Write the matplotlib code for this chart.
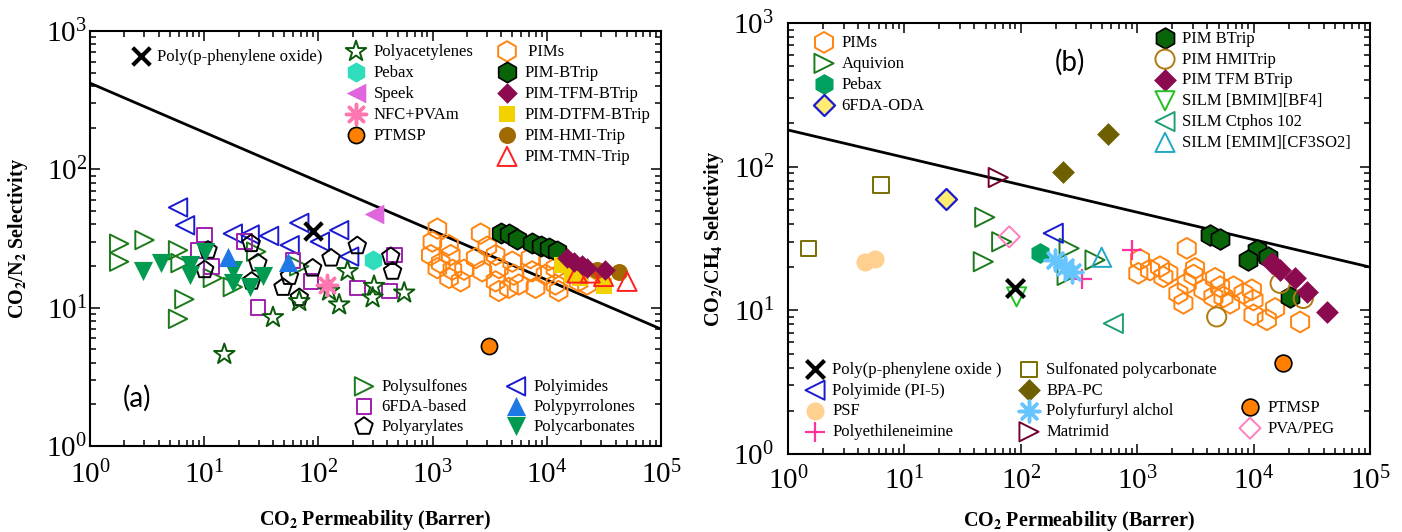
import matplotlib
matplotlib.use("Agg")
import matplotlib.pyplot as plt
from matplotlib.legend import Legend

plt.rcParams['font.family'] = ['Liberation Serif', 'DejaVu Serif']
plt.rcParams['mathtext.fontset'] = 'stix'
plt.rcParams['mathtext.default'] = 'regular'

# ---------------- Panel (a) data: CO2 permeability (Barrer), CO2/N2 selectivity
bound_a_p = [1, 1e5]
bound_a_s = [420, 7.0]

ppo_a_p = [89]
ppo_a_s = [36]
polysulfones_p = [1.8, 1.8, 3.0, 5.9, 6.2, 6.7, 5.9, 11.9, 17.8, 28.5, 68]
polysulfones_s = [29, 21.5, 30.8, 26, 21, 11.5, 8.3, 16.4, 14.1, 25.4, 19.9]
polyimides_p = [5.9, 6.8, 17.8, 25, 37, 56, 68, 103, 152, 186]
polyimides_s = [53, 39.4, 34.3, 33.8, 33, 28.3, 41, 30, 36.3, 23.4]
fda_p = [10.1, 8.8, 11.6, 22.5, 29.5, 60, 86, 220, 417, 462]
fda_s = [33.4, 26, 19.8, 30, 10, 22, 15.5, 13.9, 13.2, 24]
arylates_p = [10.8, 10.1, 25.8, 29.5, 26, 55.8, 49, 68, 89, 129, 219, 430, 446]
arylates_s = [26, 18.8, 29, 21, 15.5, 16.8, 14, 11.8, 19.3, 22.8, 28, 23.4, 18.3]
polycarb_p = [2.9, 4.2, 7.5, 7.5, 10.1, 17.8, 17.8, 25, 32.6]
polycarb_s = [18.3, 21, 20.4, 17.3, 25.4, 18.8, 15.1, 14, 16.8]
pyrrolones_p = [16, 54]
pyrrolones_s = [23.4, 21.5]
acetylenes_p = [15, 40, 68, 124, 152, 180, 298, 307, 564]
acetylenes_s = [4.6, 8.5, 11.1, 13.2, 10.5, 18.3, 11.8, 14.3, 12.8]
pebax_a_p = [298]
pebax_a_s = [22.2]
speek_p = [307]
speek_s = [47.5]
nfc_p = [120]
nfc_s = [14.7]
ptmsp_a_p = [3100]
ptmsp_a_s = [5.3]
pims_a_p = [1101, 996, 1393, 964, 1441, 1178, 1101, 1490, 1884, 1762, 1393, 2636,
            3012, 2383, 2723, 3562, 3809, 3562, 3809, 4979, 5149, 4656, 5693, 7195,
            7443, 7960, 10400, 9731, 11900, 12700, 11900, 19000, 22500]
pims_a_s = [37.3, 30, 28.3, 24, 24, 21, 19.3, 18.8, 18.8, 15.5, 16.4, 34.3,
            27.6, 22.8, 18.3, 24, 19.3, 15.5, 13.2, 21.5, 17.3, 13.9, 14.7, 22.8,
            18.3, 13.9, 22.1, 17.3, 14.7, 13.2, 19.3, 15.5, 14.7]
pim_btrip_a_p = [3940, 4656, 5510, 7443, 8810, 10400, 12300]
pim_btrip_a_s = [34.9, 33.8, 31.6, 29.1, 27.9, 26.8, 25.7]
pim_dtfm_a_p = [13600, 16600, 19700, 31400]
pim_dtfm_a_s = [20.4, 17.3, 16.4, 14.3]
pim_hmi_a_p = [27500, 42500]
pim_hmi_a_s = [18.8, 18.0]
pim_tmn_a_p = [18400, 24000, 31400, 50400]
pim_tmn_a_s = [17.8, 17.8, 16.8, 15.5]
pim_tfm_a_p = [15000, 17200, 20400, 22500, 32500]
pim_tfm_a_s = [22.8, 21.5, 20.4, 19.3, 18.8]

# ---------------- Panel (b) data: CO2 permeability (Barrer), CO2/CH4 selectivity
bound_b_p = [1, 1e5]
bound_b_s = [180, 20]

pims_b_p = [2666, 1057, 1022, 1288, 1570, 1678, 1852, 3142, 3044, 2258, 2494, 2666,
            3706, 4669, 5152, 5508, 6285, 6719, 8190, 9660, 9980, 9980, 13000,
            15300, 25100, 4518]
pims_b_s = [27, 22.6, 18.1, 19.1, 20.1, 17.1, 18.1, 19.6, 17.6, 13.1, 11.2, 15.4,
            13.9, 16.7, 14.6, 12.4, 11.2, 14.6, 13.1, 13.9, 11.8, 9.3, 8.6,
            10.3, 8.3, 12.4]
aquivion_p = [49, 47.6, 68.5, 260, 434, 250]
aquivion_s = [44.4, 21.8, 30, 27, 22.4, 17.5]
pebax_b_p = [146]
pebax_b_s = [24.9]
fda_oda_p = [22.8]
fda_oda_s = [59.5]
pim_btrip_b_p = [4220, 5150, 10600, 9020, 13400, 20600]
pim_btrip_b_s = [33.4, 31.2, 26.3, 22.4, 23.6, 12.4]
pim_hmi_b_p = [16900, 26700, 4820]
pim_hmi_b_s = [15.4, 12.1, 9.0]
pim_tfm_b_p = [14300, 16900, 22700, 28600, 42500]
pim_tfm_b_s = [21.2, 19.1, 16.7, 13.5, 9.8]
silm_bmim_p = [92]
silm_bmim_s = [12.4]
silm_ctphos_p = [624]
silm_ctphos_s = [8.1]
silm_emim_p = [495]
silm_emim_s = [23.4]
ppo_b_p = [89]
ppo_b_s = [14.2]
pi5_p = [190]
pi5_s = [34.4]
psf_p = [4.6, 5.6]
psf_s = [21.8, 22.6]
pei_p = [333, 897]
pei_s = [16.4, 26.3]
sulf_pc_p = [1.5, 6.3]
sulf_pc_s = [27, 74.5]
bpa_pc_p = [229, 561]
bpa_pc_s = [92, 169]
pfa_p = [197, 240, 275]
pfa_s = [22.4, 20, 18.5]
matrimid_p = [64]
matrimid_s = [84]
ptmsp_b_p = [18000]
ptmsp_b_s = [4.3]
pva_peg_p = [79.6]
pva_peg_s = [32.5]

# ---------------- figure
W, H = 1402, 532
fig = plt.figure(figsize=(W / 100, H / 100), dpi=100)
# axes pixel boxes (left, top, right, bottom)
box_a = (90, 31, 661, 446)
box_b = (788, 23, 1370, 454)


def add_axes(box):
    l, t, r, b = box
    return fig.add_axes([l / W, (H - b) / H, (r - l) / W, (b - t) / H])


ax_a = add_axes(box_a)
ax_b = add_axes(box_b)

ASTER = (8, 2, 0)
LW = 1.4


def open_pt(ax, p, s, marker, color, size, label, lw=LW, z=3):
    return ax.scatter(p, s, marker=marker, s=size, facecolors='none',
                      edgecolors=color, linewidths=lw, label=label, zorder=z)


def fill_pt(ax, p, s, marker, color, size, label, edge=None, lw=1.2, z=3):
    return ax.scatter(p, s, marker=marker, s=size, facecolors=color,
                      edgecolors=edge if edge else color, linewidths=lw if edge else 0,
                      label=label, zorder=z)


def line_pt(ax, p, s, marker, color, size, label, lw=2.5, z=4):
    return ax.scatter(p, s, marker=marker, s=size, color=color,
                      linewidths=lw, label=label, zorder=z)


def style(ax, box):
    ax.set_xscale('log')
    ax.set_yscale('log')
    ax.set_xlim(1, 1e5)
    ax.set_ylim(1, 1e3)
    for sp in ax.spines.values():
        sp.set_linewidth(1.5)
    ax.tick_params(which='both', direction='in', top=True, right=True,
                   labelsize=21, width=1.1)
    ax.tick_params(which='major', length=7)
    ax.tick_params(which='minor', length=4)


def px2ax(box, x, y):
    l, t, r, b = box
    return (x - l) / (r - l), (b - y) / (b - t)


FS = 12


def legend(ax, box, handles, cx, cy, spacing=21.5, textpad=0.5, fs=FS, hl=1.1):
    fspx = fs * 100 / 72
    rowh = 0.99 * fspx
    ls = (spacing - rowh) / fspx
    left = cx - hl * fspx / 2
    top = cy - rowh / 2
    bx, by = px2ax(box, left, top)
    leg = Legend(ax, handles, [h.get_label() for h in handles], loc='upper left',
                 bbox_to_anchor=(bx, by), bbox_transform=ax.transAxes,
                 frameon=False, borderpad=0, borderaxespad=0, fontsize=fs,
                 labelspacing=ls, handlelength=hl, handletextpad=textpad,
                 scatterpoints=1, handleheight=0.7)
    ax.add_artist(leg)
    return leg


# ---------------- panel (a)
ax = ax_a
style(ax, box_a)
ax.plot(bound_a_p, bound_a_s, color='black', lw=2, zorder=2)
h_ps = open_pt(ax, polysulfones_p, polysulfones_s, '>', '#1a7a1a', 175, 'Polysulfones')
h_pi = open_pt(ax, polyimides_p, polyimides_s, '<', '#1a1ad0', 175, 'Polyimides')
h_fda = open_pt(ax, fda_p, fda_s, 's', '#a020b0', 110, '6FDA-based')
h_ar = open_pt(ax, arylates_p, arylates_s, 'p', 'black', 175, 'Polyarylates')
h_pc = fill_pt(ax, polycarb_p, polycarb_s, 'v', '#009a50', 190, 'Polycarbonates')
h_py = fill_pt(ax, pyrrolones_p, pyrrolones_s, '^', '#1e78e6', 190, 'Polypyrrolones')
h_ac = open_pt(ax, acetylenes_p, acetylenes_s, '*', '#0a5a0a', 240, 'Polyacetylenes')
h_peb = fill_pt(ax, pebax_a_p, pebax_a_s, 'h', '#2fdcbc', 210, 'Pebax')
h_sp = fill_pt(ax, speek_p, speek_s, '<', '#e066dd', 200, 'Speek')
h_nfc = line_pt(ax, nfc_p, nfc_s, ASTER, '#ff77b0', 210, 'NFC+PVAm')
h_ppo = line_pt(ax, ppo_a_p, ppo_a_s, 'x', 'black', 160, 'Poly(p-phenylene oxide)', lw=3)
h_pims = open_pt(ax, pims_a_p, pims_a_s, 'h', '#ff8410', 215, ' PIMs')
h_bt = fill_pt(ax, pim_btrip_a_p, pim_btrip_a_s, 'h', '#0a640a', 215, 'PIM-BTrip', edge='black')
h_dt = fill_pt(ax, pim_dtfm_a_p, pim_dtfm_a_s, 's', '#f2d200', 125, 'PIM-DTFM-BTrip')
h_hmi = fill_pt(ax, pim_hmi_a_p, pim_hmi_a_s, 'o', '#a06a00', 150, 'PIM-HMI-Trip')
h_tmn = open_pt(ax, pim_tmn_a_p, pim_tmn_a_s, '^', '#ff2020', 190, 'PIM-TMN-Trip')
h_tfm = fill_pt(ax, pim_tfm_a_p, pim_tfm_a_s, 'D', '#8c0a50', 110, 'PIM-TFM-BTrip')
h_pt = fill_pt(ax, ptmsp_a_p, ptmsp_a_s, 'o', '#ff7f00', 135, 'PTMSP', edge='black')

ax.set_xlabel(r'CO$_\mathbf{2}$ Permeability (Barrer)', fontsize=14.5, fontweight='bold')
ax.set_ylabel(r'CO$_\mathbf{2}$/N$_\mathbf{2}$ Selectivity', fontsize=14.5, fontweight='bold')
ax.xaxis.set_label_coords(0.5, px2ax(box_a, 0, 508)[1])
ax.yaxis.set_label_coords(px2ax(box_a, 30, 0)[0], 0.5)
ax.tick_params(axis='y', pad=2)
ax.tick_params(axis='x', pad=11)
ax.text(*px2ax(box_a, 137, 398), '(a)', transform=ax.transAxes, ha='center',
        va='center', fontsize=20, family=['Lato', 'DejaVu Sans'])

legend(ax, box_a, [h_ppo], 141, 57, textpad=0.4)
legend(ax, box_a, [h_ac, h_peb, h_sp, h_nfc, h_pt], 356, 52)
legend(ax, box_a, [h_pims, h_bt, h_tfm, h_dt, h_hmi, h_tmn], 507, 52)
legend(ax, box_a, [h_ps, h_fda, h_ar], 364, 387, spacing=20.5)
legend(ax, box_a, [h_pi, h_py, h_pc], 516, 387, spacing=20.5)

# ---------------- panel (b)
ax = ax_b
style(ax, box_b)
ax.plot(bound_b_p, bound_b_s, color='black', lw=2, zorder=2)
g_pims = open_pt(ax, pims_b_p, pims_b_s, 'h', '#ff8410', 225, 'PIMs')
g_aq = open_pt(ax, aquivion_p, aquivion_s, '>', '#1e7a1e', 190, 'Aquivion')
g_peb = fill_pt(ax, pebax_b_p, pebax_b_s, 'h', '#00a060', 225, 'Pebax')
g_oda = fill_pt(ax, fda_oda_p, fda_oda_s, 'D', '#ffec70', 115, '6FDA-ODA', edge='#1a1ad0', lw=1.6)
g_bt = fill_pt(ax, pim_btrip_b_p, pim_btrip_b_s, 'h', '#0a640a', 225, 'PIM BTrip', edge='black')
g_hmi = open_pt(ax, pim_hmi_b_p, pim_hmi_b_s, 'o', '#b07a10', 190, 'PIM HMITrip')
g_tfm = fill_pt(ax, pim_tfm_b_p, pim_tfm_b_s, 'D', '#8c0a50', 135, 'PIM TFM BTrip')
g_bmim = open_pt(ax, silm_bmim_p, silm_bmim_s, 'v', '#22c022', 190, 'SILM [BMIM][BF4]')
g_ct = open_pt(ax, silm_ctphos_p, silm_ctphos_s, '<', '#20a070', 190, 'SILM Ctphos 102')
g_em = open_pt(ax, silm_emim_p, silm_emim_s, '^', '#20a8c8', 190, 'SILM [EMIM][CF3SO2]')
g_ppo = line_pt(ax, ppo_b_p, ppo_b_s, 'x', 'black', 170, 'Poly(p-phenylene oxide )', lw=3)
g_pi5 = open_pt(ax, pi5_p, pi5_s, '<', '#1a1ad0', 190, 'Polyimide (PI-5)')
g_psf = fill_pt(ax, psf_p, psf_s, 'o', '#ffd090', 170, 'PSF')
g_pei = line_pt(ax, pei_p, pei_s, '+', '#ff3399', 210, 'Polyethileneimine', lw=1.6)
g_spc = open_pt(ax, sulf_pc_p, sulf_pc_s, 's', '#7a6e00', 120, 'Sulfonated polycarbonate')
g_bpa = fill_pt(ax, bpa_pc_p, bpa_pc_s, 'D', '#6e6000', 135, 'BPA-PC')
g_pfa = line_pt(ax, pfa_p, pfa_s, ASTER, '#66c4ff', 220, 'Polyfurfuryl alchol', lw=2.5)
g_mat = open_pt(ax, matrimid_p, matrimid_s, '>', '#700030', 190, 'Matrimid')
g_pt = fill_pt(ax, ptmsp_b_p, ptmsp_b_s, 'o', '#ff7f00', 145, 'PTMSP', edge='black')
g_pva = open_pt(ax, pva_peg_p, pva_peg_s, 'D', '#ff7fbf', 115, 'PVA/PEG')

ax.set_xlabel(r'CO$_\mathbf{2}$ Permeability (Barrer)', fontsize=14.5, fontweight='bold')
ax.set_ylabel(r'CO$_\mathbf{2}$/CH$_\mathbf{4}$ Selectivity', fontsize=14.5, fontweight='bold')
ax.xaxis.set_label_coords(0.5, px2ax(box_b, 0, 509)[1])
ax.yaxis.set_label_coords(px2ax(box_b, 726, 0)[0], 0.5)
ax.tick_params(axis='y', pad=10)
ax.tick_params(axis='x', pad=9)
ax.text(*px2ax(box_b, 1070, 62), '(b)', transform=ax.transAxes, ha='center',
        va='center', fontsize=20, family=['Lato', 'DejaVu Sans'])

legend(ax, box_b, [g_pims, g_aq, g_peb, g_oda], 824, 43)
legend(ax, box_b, [g_bt, g_hmi, g_tfm, g_bmim, g_ct, g_em], 1165, 39, spacing=21.3)
legend(ax, box_b, [g_ppo, g_pi5, g_psf, g_pei], 815, 370, spacing=21.3)
legend(ax, box_b, [g_spc, g_bpa, g_pfa, g_mat], 1029, 370, spacing=21.3)
legend(ax, box_b, [g_pt, g_pva], 1250, 408, spacing=21.3)

fig.savefig('out.png', dpi=100)
